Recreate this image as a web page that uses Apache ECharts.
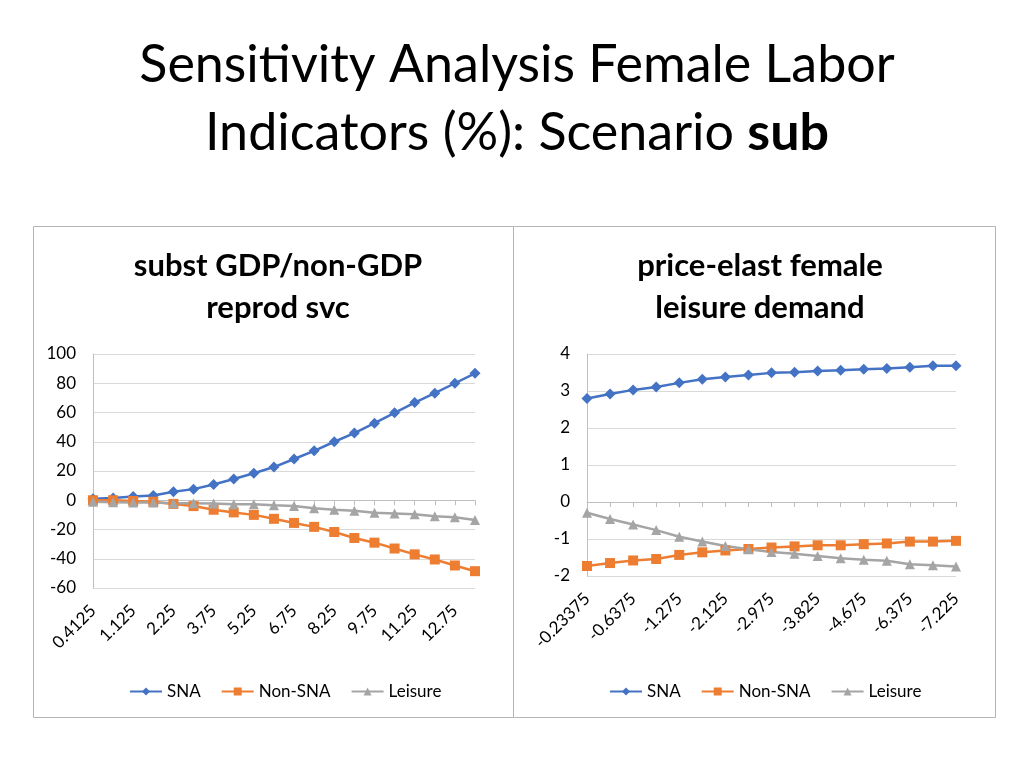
<!DOCTYPE html>
<html>
<head>
<meta charset="utf-8">
<script src="https://cdn.jsdelivr.net/npm/echarts@6/dist/echarts.min.js"></script>
<style>html,body{margin:0;padding:0;background:#fff}#c{width:1024px;height:768px}</style>
</head>
<body>
<div id="c"></div>
<script>
// Left panel: subst GDP/non-GDP reprod svc
const catsLeft = ['0.4125','0.75','1.125','1.5','2.25','3','3.75','4.5','5.25','6','6.75','7.5','8.25','9','9.75','10.5','11.25','12','12.75','13.5'];
const snaLeft = [1, 1.5, 2.5, 3.2, 5.8, 7.6, 10.8, 14.5, 18.5, 22.7, 28.2, 33.8, 40, 45.9, 52.7, 59.8, 66.8, 73.2, 80, 86.8];
const nonSnaLeft = [0, 0, -0.5, -1, -2.5, -4, -6.5, -8.3, -10, -12.7, -15.5, -18.2, -21.7, -25.8, -29, -33, -37, -40.5, -44.6, -48.5];
const leisureLeft = [-1, -1.3, -1.5, -1.5, -2, -2, -2.2, -2.8, -2.8, -3.5, -4, -5.5, -6.5, -7.2, -8.5, -9, -9.6, -11, -11.6, -13.5];

// Right panel: price-elast female leisure demand
const catsRight = ['-0.23375','-0.425','-0.6375','-0.85','-1.275','-1.7','-2.125','-2.55','-2.975','-3.4','-3.825','-4.25','-4.675','-5.525','-6.375','-6.8','-7.225'];
const snaRight = [2.80, 2.92, 3.03, 3.11, 3.22, 3.32, 3.38, 3.43, 3.49, 3.51, 3.54, 3.56, 3.59, 3.61, 3.64, 3.68, 3.68];
const nonSnaRight = [-1.73, -1.65, -1.58, -1.54, -1.43, -1.36, -1.31, -1.27, -1.23, -1.20, -1.17, -1.17, -1.14, -1.12, -1.07, -1.07, -1.05];
const leisureRight = [-0.29, -0.46, -0.61, -0.76, -0.94, -1.07, -1.19, -1.28, -1.35, -1.40, -1.46, -1.52, -1.56, -1.59, -1.68, -1.71, -1.74];

const seriesNames = ['SNA', 'Non-SNA', 'Leisure'];
const colors = ['#4472C4', '#ED7D31', '#A5A5A5'];
const symbols = ['diamond', 'rect', 'triangle'];

const FONT = 'Lato, "Open Sans", sans-serif';
const chart = echarts.init(document.getElementById('c'));

function mkSeries(data, i, gi) {
  return {
    name: seriesNames[i], type: 'line', data: data,
    xAxisIndex: gi * 2, yAxisIndex: gi,
    symbol: symbols[i], symbolSize: i === 0 ? 11 : 10,
    lineStyle: { color: colors[i], width: 2.5 },
    itemStyle: { color: colors[i] },
    animation: false
  };
}

function xAxes(cats, gi) {
  return [
    { type: 'category', gridIndex: gi, data: cats, boundaryGap: false, position: 'bottom',
      axisLine: { show: false, onZero: false }, axisTick: { show: false },
      axisLabel: { interval: 1, rotate: 45, fontSize: 17, color: '#000', fontFamily: FONT, margin: 20 } },
    { type: 'category', gridIndex: gi, data: cats, boundaryGap: false, position: 'bottom',
      axisLine: { show: true, onZero: true, lineStyle: { color: '#bfbfbf', width: 1 } },
      axisTick: { show: true, interval: 0, length: 5, lineStyle: { color: '#bfbfbf' } },
      axisLabel: { show: false } }
  ];
}

function yAxis(gi, min, max, interval) {
  return { type: 'value', gridIndex: gi, min: min, max: max, interval: interval,
    axisLine: { show: true, lineStyle: { color: '#bfbfbf' } }, axisTick: { show: false },
    axisLabel: { fontSize: 17, color: '#000', fontFamily: FONT, margin: 17 },
    splitLine: { lineStyle: { color: '#d9d9d9', width: 1 } } };
}

chart.setOption({
  animation: false,
  title: [
    { text: '{a|Sensitivity Analysis Female Labor}\n{a|Indicators (%): Scenario }{b|sub}',
      left: 512, top: 26, textAlign: 'center',
      textStyle: { rich: {
        a: { fontSize: 52, fontFamily: FONT, fontWeight: 'normal', color: '#000', lineHeight: 68 },
        b: { fontSize: 52, fontFamily: FONT, fontWeight: 'bold', color: '#000', lineHeight: 68 } } } },
    { text: 'subst GDP/non-GDP\nreprod svc', left: 273, top: 240, textAlign: 'center',
      textStyle: { fontSize: 31, fontFamily: FONT, fontWeight: 'bold', color: '#000', lineHeight: 42 } },
    { text: 'price-elast female\nleisure demand', left: 755, top: 240, textAlign: 'center',
      textStyle: { fontSize: 31, fontFamily: FONT, fontWeight: 'bold', color: '#000', lineHeight: 42 } }
  ],
  graphic: [
    { type: 'rect', shape: { x: 33.5, y: 226.5, width: 962, height: 491 },
      style: { fill: 'none', stroke: '#b4b4b4', lineWidth: 1 }, silent: true },
    { type: 'line', shape: { x1: 513.5, y1: 226.5, x2: 513.5, y2: 717.5 },
      style: { stroke: '#b4b4b4', lineWidth: 1 }, silent: true }
  ],
  legend: [
    { data: seriesNames, left: 124, top: 678, itemGap: 20, itemWidth: 32, itemHeight: 10,
      textStyle: { fontSize: 17, fontFamily: FONT, color: '#000' } },
    { data: seriesNames, left: 604, top: 678, itemGap: 20, itemWidth: 32, itemHeight: 10,
      textStyle: { fontSize: 17, fontFamily: FONT, color: '#000' } }
  ],
  grid: [
    { left: 93, right: 549, top: 354, bottom: 180 },
    { left: 587, right: 68, top: 354, bottom: 192 }
  ],
  xAxis: [].concat(xAxes(catsLeft, 0), xAxes(catsRight, 1)),
  yAxis: [yAxis(0, -60, 100, 20), yAxis(1, -2, 4, 1)],
  series: [
    mkSeries(snaLeft, 0, 0), mkSeries(nonSnaLeft, 1, 0), mkSeries(leisureLeft, 2, 0),
    mkSeries(snaRight, 0, 1), mkSeries(nonSnaRight, 1, 1), mkSeries(leisureRight, 2, 1)
  ]
});
</script>
</body>
</html>
